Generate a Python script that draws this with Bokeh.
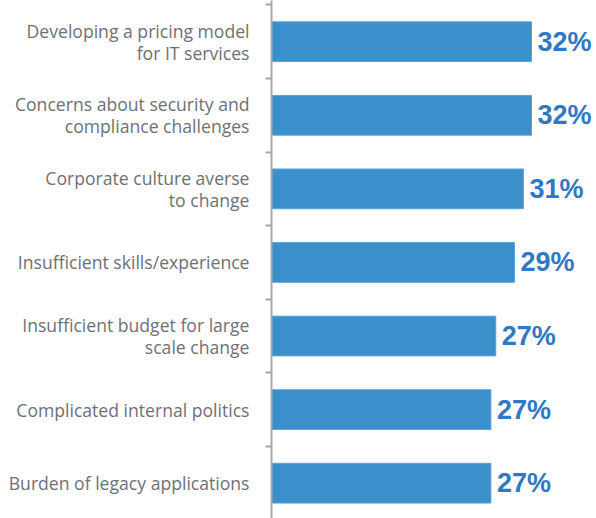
from bokeh.plotting import figure
from bokeh.models import Range1d, LinearAxis, FixedTicker, ColumnDataSource
from bokeh.core.properties import value
from bokeh.embed import file_html
from bokeh.resources import INLINE

categories = [
    "Developing a pricing model\nfor IT services",
    "Concerns about security and\ncompliance challenges",
    "Corporate culture averse\nto change",
    "Insufficient skills/experience",
    "Insufficient budget for large\nscale change",
    "Complicated internal politics",
    "Burden of legacy applications",
]
values = [32.0, 32.0, 31.0, 29.9, 27.6, 27.0, 27.0]
labels = ["32%", "32%", "31%", "29%", "27%", "27%", "27%"]

n = len(categories)
ypos = [n - i for i in range(n)]
bounds = [k + 0.5 for k in range(n + 1)]

src = ColumnDataSource(dict(y=ypos, v=values, lab=labels))

p = figure(width=596, height=518, output_backend="svg", toolbar_location=None,
           x_range=Range1d(0, 40.0), y_range=Range1d(0.52, n + 0.56),
           x_axis_location=None, y_axis_location=None,
           min_border_left=271, min_border_right=0, min_border_top=0, min_border_bottom=0)
p.outline_line_color = None
p.xgrid.visible = False
p.ygrid.visible = False

p.hbar(y="y", right="v", left=0, height=0.54, source=src,
       fill_color="#3b8fcb", line_color="#5aa2d6", line_width=1)
p.text(x="v", y="y", text="lab", source=src, x_offset=6,
       text_font=value("Liberation Sans"), text_font_style="bold",
       text_font_size="27px", text_color="#2f78c4",
       text_align="left", text_baseline="middle")

ax = LinearAxis(ticker=FixedTicker(ticks=ypos, minor_ticks=bounds))
ax.major_label_overrides = {y: c for y, c in zip(ypos, categories)}
ax.axis_line_color = "#a8a8a8"
ax.axis_line_width = 2
ax.major_tick_line_color = None
ax.major_tick_in = 0
ax.major_tick_out = 0
ax.minor_tick_line_color = "#a8a8a8"
ax.minor_tick_line_width = 2
ax.minor_tick_in = 0
ax.minor_tick_out = 6
ax.major_label_standoff = 16
ax.major_label_text_font = "Open Sans"
ax.major_label_text_font_size = "17.6px"
ax.major_label_text_color = "#6d7175"
ax.major_label_text_line_height = 0.92
p.add_layout(ax, "left")

open("out.html", "w").write(file_html(p, INLINE))
